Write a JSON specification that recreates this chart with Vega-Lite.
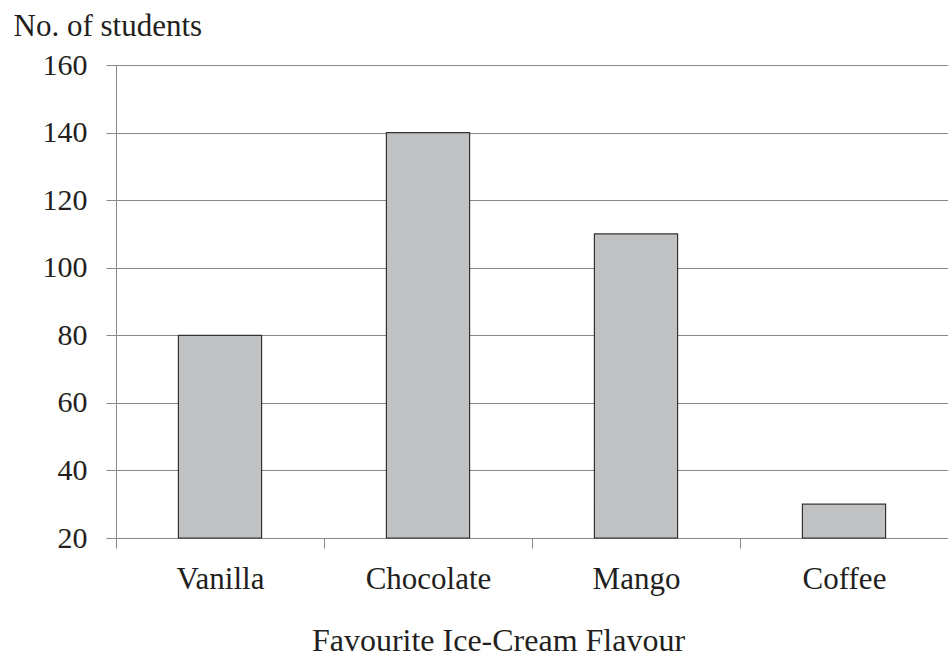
{
  "$schema": "https://vega.github.io/schema/vega-lite/v6.json",
  "width": 832,
  "height": 473,
  "autosize": {"type": "none"},
  "padding": {"left": 116, "top": 65, "right": 0, "bottom": 119},
  "background": "white",
  "data": {"values": [
    {"flavour": "Vanilla", "students": 80},
    {"flavour": "Chocolate", "students": 140},
    {"flavour": "Mango", "students": 110},
    {"flavour": "Coffee", "students": 30}
  ]},
  "mark": {"type": "bar", "color": "#c0c1c3", "stroke": "#333333", "strokeWidth": 1.2, "width": {"band": 0.4}},
  "encoding": {
    "x": {
      "field": "flavour", "type": "nominal", "sort": null,
      "scale": {"paddingInner": 0, "paddingOuter": 0},
      "axis": {
        "title": "Favourite Ice-Cream Flavour",
        "labelAngle": 0,
        "tickBand": "extent",
        "tickSize": 10,
        "tickColor": "#888888",
        "domainColor": "#888888",
        "labelPadding": 16,
        "labelFont": "Liberation Serif",
        "labelFontSize": 31,
        "labelColor": "#231f20",
        "titleFont": "Liberation Serif",
        "titleFontSize": 32,
        "titleFontWeight": "normal",
        "titleColor": "#231f20",
        "titleX": 382,
        "titleAlign": "center",
        "titlePadding": 31
      }
    },
    "y": {
      "field": "students", "type": "quantitative",
      "scale": {"domain": [20, 160], "nice": false, "zero": false},
      "axis": {
        "values": [20, 40, 60, 80, 100, 120, 140, 160],
        "grid": true,
        "gridColor": "#888888",
        "gridWidth": 1,
        "tickSize": 10,
        "tickColor": "#888888",
        "domainColor": "#888888",
        "labelPadding": 19,
        "labelFont": "Liberation Serif",
        "labelFontSize": 30,
        "labelColor": "#231f20",
        "title": "No. of students",
        "titleAngle": 0,
        "titleAlign": "left",
        "titleBaseline": "alphabetic",
        "titleX": -103,
        "titleY": -30,
        "titleFont": "Liberation Serif",
        "titleFontSize": 31,
        "titleFontWeight": "normal",
        "titleColor": "#231f20"
      }
    },
    "y2": {"datum": 20}
  },
  "config": {"view": {"stroke": null}}
}
